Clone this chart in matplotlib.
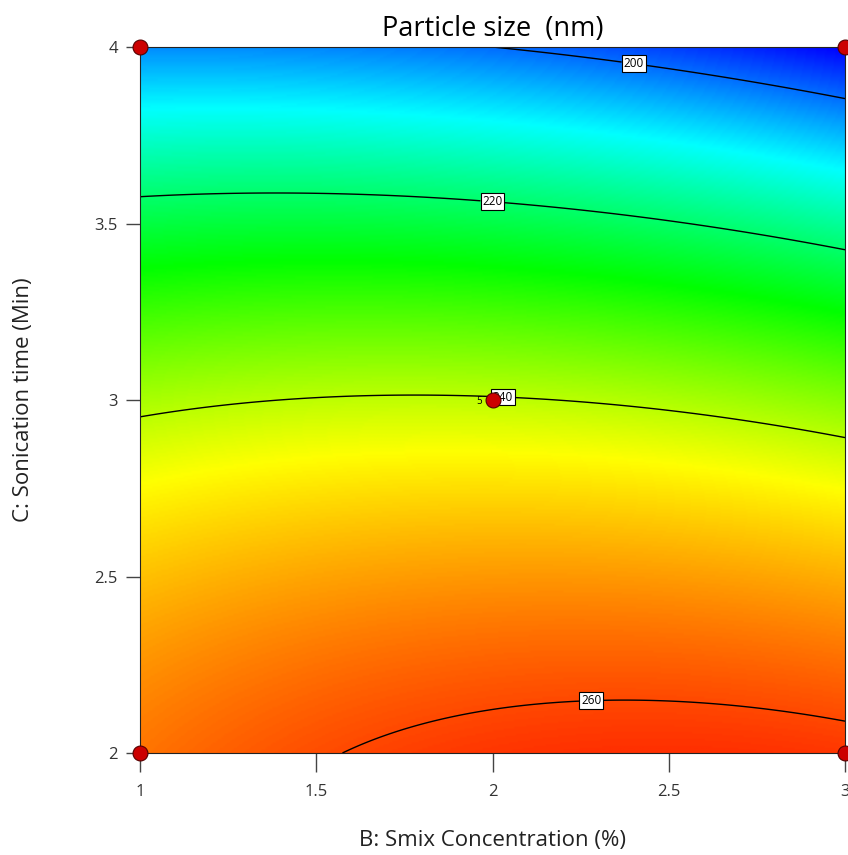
import numpy as np
import matplotlib
matplotlib.use("Agg")
import matplotlib.pyplot as plt
from matplotlib.colors import LinearSegmentedColormap

plt.rcParams['font.family'] = ['Open Sans', 'DejaVu Sans']

# quadratic response surface, coded units (b = B-2, c = C-3)
# terms: intercept, b, c, bc, b^2, c^2
coef = [240.3, -1.15, -30.8, -3.75, -2.72, -9.5]

b_range = [1.0, 3.0]
c_range = [2.0, 4.0]

levels = [200, 220, 240, 260]

# design points
pts_b = [1, 3, 1, 3, 2]
pts_c = [4, 4, 2, 2, 3]
center_reps = 5

B = np.linspace(b_range[0], b_range[1], 400)
C = np.linspace(c_range[0], c_range[1], 400)
BB, CC = np.meshgrid(B, C)
b = BB - 2.0
c = CC - 3.0
Z = (coef[0] + coef[1] * b + coef[2] * c + coef[3] * b * c
     + coef[4] * b ** 2 + coef[5] * c ** 2)

cmap = LinearSegmentedColormap.from_list(
    "de", ["#0000ff", "#00ffff", "#00ff00", "#ffff00", "#ff3000"])

fig = plt.figure(figsize=(8.48, 8.55), dpi=100)
ax = fig.add_axes([0.1651, 0.1193, 0.8314, 0.8257])

ax.imshow(Z, origin="lower", extent=[1, 3, 2, 4], aspect="auto",
          cmap=cmap, vmin=Z.min(), vmax=Z.max(), interpolation="bilinear")
cs = ax.contour(BB, CC, Z, levels=levels, colors="black", linewidths=1.0)
lbls = ax.clabel(cs, fmt="%d", fontsize=8.5, inline=True, inline_spacing=2,
                 manual=[(2.4, 3.95), (2.0, 3.56), (2.03, 3.02), (2.28, 2.16)])
for t in lbls:
    t.set_bbox(dict(boxstyle="square,pad=0.15", fc="white", ec="black", lw=0.8))
    t.set_rotation(0)

ax.scatter(pts_b, pts_c, s=115, c="#cc0000", edgecolors="#550000",
           linewidths=0.8, zorder=5, clip_on=False)
ax.text(1.97, 2.995, str(center_reps), fontsize=7, ha="right", va="center",
        color="black", zorder=6)

ax.set_xlim(b_range)
ax.set_ylim(c_range)
ax.set_xticks([1, 1.5, 2, 2.5, 3])
ax.set_xticklabels(["1", "1.5", "2", "2.5", "3"])
ax.set_yticks([2, 2.5, 3, 3.5, 4])
ax.set_yticklabels(["2", "2.5", "3", "3.5", "4"])
ax.tick_params(direction="out", width=1, color="#444444",
               labelsize=12, labelcolor="#333333")
ax.tick_params(axis="x", length=14, pad=8)
ax.tick_params(axis="y", length=10, pad=6)
for s in ax.spines.values():
    s.set_linewidth(0.8)
    s.set_color("#222222")

ax.set_title("Particle size  (nm)", fontsize=19.5, pad=8)
ax.set_xlabel("B: Smix Concentration (%)", fontsize=16, color="#222222")
ax.set_ylabel("C: Sonication time (Min)", fontsize=16, color="#222222")
ax.xaxis.set_label_coords(0.5, -0.109)
ax.yaxis.set_label_coords(-0.150, 0.5)

fig.savefig("out.png", dpi=100)
